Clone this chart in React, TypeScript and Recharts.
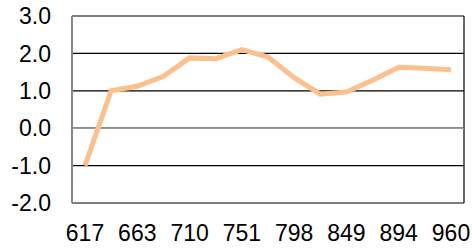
import { LineChart, Line, XAxis, YAxis, CartesianGrid, ReferenceLine } from "recharts";

// x categories; only every other label is shown in the chart
const categories = [
  "617", "640", "663", "686", "710", "730", "751", "775",
  "798", "823", "849", "871", "894", "927", "960",
];

const values = [
  -1.0, 1.0, 1.12, 1.39, 1.88, 1.86, 2.1, 1.9,
  1.35, 0.91, 0.97, 1.28, 1.63, 1.6, 1.56,
];

const yTicks = [-2, -1, 0, 1, 2, 3];

const data = categories.map((c, i) => ({ name: c, value: values[i] }));

const font = "'Liberation Sans', Arial, sans-serif";

export default function App() {
  return (
    <div style={{ position: "absolute", left: 0, top: 0, background: "#fff" }}>
      <LineChart
        width={472}
        height={248}
        data={data}
        margin={{ top: 16, right: 8, bottom: 0, left: 0 }}
      >
        <CartesianGrid
          stroke="#000"
          strokeWidth={1.2}
          horizontalValues={yTicks}
          verticalCoordinatesGenerator={({ offset }: any) => [
            offset.left + offset.width,
          ]}
        />
        <ReferenceLine y={0} stroke="#999" strokeWidth={1.5} />
        <XAxis
          dataKey="name"
          interval={1}
          height={45}
          padding={{ left: 13, right: 13 }}
          axisLine={false}
          tickLine={false}
          tickSize={0}
          tickMargin={22}
          tick={{ fill: "#000", fontSize: 23, fontFamily: font }}
        />
        <YAxis
          type="number"
          domain={[-2, 3]}
          ticks={yTicks}
          width={72}
          axisLine={{ stroke: "#888", strokeWidth: 2 }}
          tickLine={false}
          tickSize={0}
          tickMargin={21}
          tickFormatter={(v: number) => v.toFixed(1)}
          tick={{ fill: "#000", fontSize: 23, fontFamily: font }}
        />
        <Line
          dataKey="value"
          stroke="#FCC08C"
          strokeWidth={5}
          dot={false}
          isAnimationActive={false}
        />
      </LineChart>
    </div>
  );
}
